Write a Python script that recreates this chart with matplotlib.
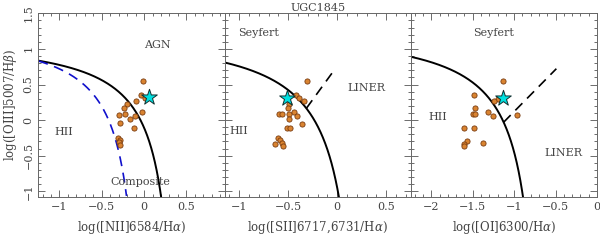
import numpy as np
import matplotlib
matplotlib.use('Agg')
import matplotlib.pyplot as plt
from matplotlib.ticker import MultipleLocator, FuncFormatter

plt.rcParams['font.family'] = 'DejaVu Serif'
plt.rcParams['mathtext.fontset'] = 'dejavuserif'

# measured line ratios of the HII regions (one list per diagram)
nii_x = [-0.01, -0.04, 0.01, -0.10, -0.20, -0.24, -0.30, -0.22, -0.17, -0.11,
         -0.03, -0.28, -0.12, -0.31, -0.28, -0.30, -0.28]
nii_y = [0.55, 0.35, 0.31, 0.27, 0.22, 0.17, 0.07, 0.09, 0.02, 0.06,
         0.11, -0.04, -0.11, -0.25, -0.28, -0.31, -0.35]

sii_x = [-0.31, -0.42, -0.39, -0.34, -0.49, -0.50, -0.59, -0.56, -0.49, -0.44,
         -0.41, -0.49, -0.36, -0.51, -0.48, -0.60, -0.58, -0.56, -0.63, -0.55]
sii_y = [0.55, 0.35, 0.31, 0.27, 0.22, 0.17, 0.08, 0.08, 0.09, 0.11,
         0.06, 0.02, -0.05, -0.11, -0.11, -0.25, -0.28, -0.32, -0.34, -0.36]

oi_x = [-1.13, -1.20, -1.24, -1.49, -1.47, -1.50, -1.47, -1.31, -1.25, -0.97,
        -1.61, -1.49, -1.57, -1.61, -1.60, -1.38]
oi_y = [0.55, 0.30, 0.27, 0.35, 0.17, 0.08, 0.08, 0.11, 0.06, 0.07,
        -0.11, -0.11, -0.29, -0.34, -0.36, -0.32]

# integrated (nucleus) value, star
star_x = [0.055, -0.51, -1.14]
star_y = [0.32, 0.31, 0.31]

xlims = [(-1.25, 0.95), (-1.15, 0.75), (-2.25, 0.0)]
ylim = (-1.08, 1.5)
xlabels = [r'log([NII]6584/H$\alpha$)', r'log([SII]6717,6731/H$\alpha$)',
           r'log([OI]6300/H$\alpha$)']

txt_col = '#444444'
dot_face = '#d98330'
dot_edge = '#7a3c10'


def kewley_nii(x):
    return 0.61 / (x - 0.47) + 1.19


def kauffmann(x):
    return 0.61 / (x - 0.05) + 1.3


def kewley_sii(x):
    return 0.72 / (x - 0.32) + 1.30


def kewley_oi(x):
    return 0.73 / (x + 0.59) + 1.33


def curve_x(func, x0, x1):
    xx = np.linspace(x0, x1, 800)
    yy = func(xx)
    keep = yy >= ylim[0]
    return xx[keep], yy[keep]


def crossing(func, slope, icpt, x0, x1):
    xx = np.linspace(x0, x1, 5000)
    d = np.abs(func(xx) - (slope * xx + icpt))
    return xx[np.argmin(d)]


fig = plt.figure(figsize=(6, 2.41), dpi=100)
W = 186.2 / 600
lefts = [38.3 / 600, 224.5 / 600, 410.7 / 600]
bottom = (241 - 197) / 241
height = (197 - 13.3) / 241
axes = [fig.add_axes([l, bottom, W, height]) for l in lefts]

fmt = FuncFormatter(lambda v, _: f"{v:g}".replace('-', '\u2212'))

for i, ax in enumerate(axes):
    ax.set_xlim(*xlims[i])
    ax.set_ylim(*ylim)
    ax.xaxis.set_major_locator(MultipleLocator(0.5))
    ax.xaxis.set_minor_locator(MultipleLocator(0.1))
    ax.yaxis.set_major_locator(MultipleLocator(0.5))
    ax.yaxis.set_minor_locator(MultipleLocator(0.1))
    ax.xaxis.set_major_formatter(fmt)
    ax.yaxis.set_major_formatter(fmt)
    ax.tick_params(which='both', direction='in', top=True, right=True,
                   color='#555555', width=0.6, labelsize=8, labelcolor=txt_col)
    ax.tick_params(which='major', length=5)
    ax.tick_params(which='minor', length=2.5)
    for sp in ax.spines.values():
        sp.set_color('#666666')
        sp.set_linewidth(0.7)
    ax.set_xlabel(xlabels[i], fontsize=8.5, color=txt_col, labelpad=5)
    if i == 0:
        ax.set_ylabel(r'log([OIII]5007/H$\beta$)', fontsize=8.5, color=txt_col,
                      labelpad=3)
        for lab in ax.get_yticklabels():
            lab.set_rotation(90)
            lab.set_va('center')
    else:
        ax.tick_params(axis='y', labelleft=False)

# panel 1: [NII]
ax = axes[0]
xk, yk = curve_x(kewley_nii, xlims[0][0], 0.469)
ax.plot(xk, yk, color='black', lw=1.4)
xc, yc = curve_x(kauffmann, xlims[0][0], 0.049)
ax.plot(xc, yc, color='#1010cc', lw=1.2, ls=(0, (6, 4)))
ax.scatter(nii_x, nii_y, s=14, c=dot_face, edgecolors=dot_edge, linewidths=0.6, zorder=3)
ax.text(0.16, 1.05, 'AGN', fontsize=8, color=txt_col, ha='center', va='center')
ax.text(-0.95, -0.17, 'HII', fontsize=8, color=txt_col, ha='center', va='center')
ax.text(-0.04, -0.87, 'Composite', fontsize=8, color=txt_col, ha='center', va='center')

# panel 2: [SII]
ax = axes[1]
xk, yk = curve_x(kewley_sii, xlims[1][0], 0.319)
ax.plot(xk, yk, color='black', lw=1.4)
x0 = crossing(kewley_sii, 1.89, 0.76, -0.6, 0.1)
xl = np.array([x0, -0.03])
ax.plot(xl, 1.89 * xl + 0.76, color='black', lw=1.2, ls=(0, (6, 4)))
ax.scatter(sii_x, sii_y, s=14, c=dot_face, edgecolors=dot_edge, linewidths=0.6, zorder=3)
ax.text(-0.80, 1.23, 'Seyfert', fontsize=8, color=txt_col, ha='center', va='center')
ax.text(0.30, 0.45, 'LINER', fontsize=8, color=txt_col, ha='center', va='center')
ax.text(-1.0, -0.15, 'HII', fontsize=8, color=txt_col, ha='center', va='center')
ax.set_title('UGC1845', fontsize=8, color=txt_col, pad=2)

# panel 3: [OI]
ax = axes[2]
xk, yk = curve_x(kewley_oi, xlims[2][0], -0.591)
ax.plot(xk, yk, color='black', lw=1.4)
x0 = crossing(kewley_oi, 1.18, 1.30, -1.5, -0.8)
xl = np.array([x0, -0.49])
ax.plot(xl, 1.18 * xl + 1.30, color='black', lw=1.2, ls=(0, (6, 4)))
ax.scatter(oi_x, oi_y, s=14, c=dot_face, edgecolors=dot_edge, linewidths=0.6, zorder=3)
ax.text(-1.25, 1.23, 'Seyfert', fontsize=8, color=txt_col, ha='center', va='center')
ax.text(-1.92, 0.04, 'HII', fontsize=8, color=txt_col, ha='center', va='center')
ax.text(-0.40, -0.46, 'LINER', fontsize=8, color=txt_col, ha='center', va='center')

for i, ax in enumerate(axes):
    ax.scatter([star_x[i]], [star_y[i]], marker='*', s=140, c='#00e0e0',
               edgecolors='#103030', linewidths=0.7, zorder=4)

fig.savefig('out.png', dpi=100)
